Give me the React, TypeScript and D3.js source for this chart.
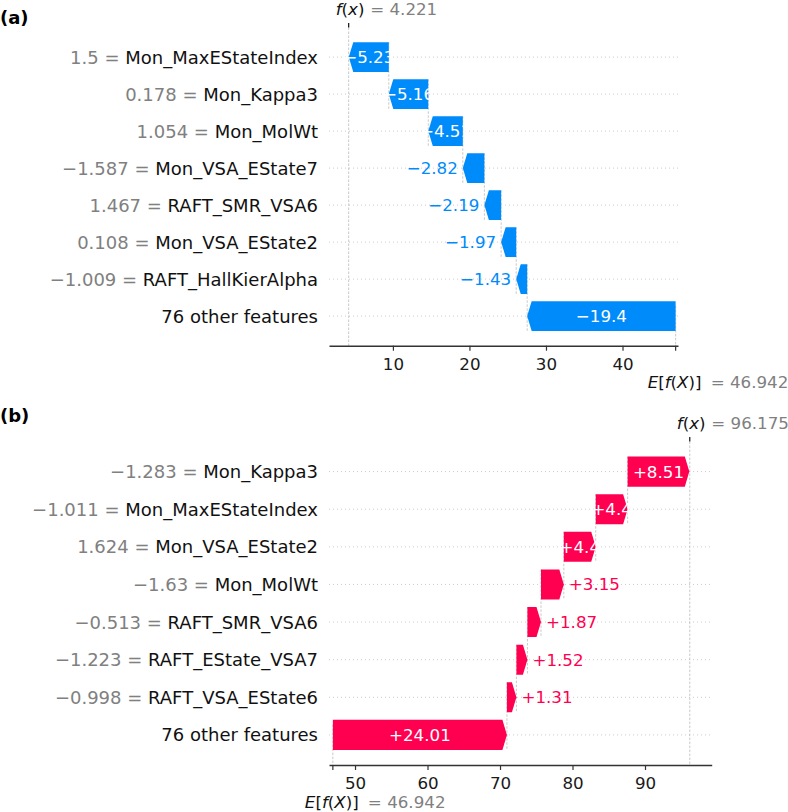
import React, { useRef, useEffect } from "react";
import * as d3 from "d3";

// panel (a)
const namesA = ["Mon_MaxEStateIndex", "Mon_Kappa3", "Mon_MolWt", "Mon_VSA_EState7", "RAFT_SMR_VSA6", "Mon_VSA_EState2", "RAFT_HallKierAlpha", "76 other features"];
const featValsA = ["1.5", "0.178", "1.054", "\u22121.587", "1.467", "0.108", "\u22121.009", ""];
const shapA = [-5.23, -5.16, -4.51, -2.82, -2.19, -1.97, -1.43, -19.4];
const ticksA = [10, 20, 30, 40];
const baseA = 46.942;
const fxA = 4.221;

// panel (b)
const namesB = ["Mon_Kappa3", "Mon_MaxEStateIndex", "Mon_VSA_EState2", "Mon_MolWt", "RAFT_SMR_VSA6", "RAFT_EState_VSA7", "RAFT_VSA_EState6", "76 other features"];
const featValsB = ["\u22121.283", "\u22121.011", "1.624", "\u22121.63", "\u22120.513", "\u22121.223", "\u22120.998", ""];
const shapB = [8.51, 4.4, 4.4, 3.15, 1.87, 1.52, 1.31, 24.01];
const ticksB = [50, 60, 70, 80, 90];
const baseB = 46.942;
const fxB = 96.175;

const W = 788, H = 812;
const BLUE = "#008bfb", RED = "#ff0051";
const FONT = "'DejaVu Sans', sans-serif";

function fmtShap(v) {
  return (v < 0 ? "\u2212" : "+") + String(Math.abs(v));
}

function drawWaterfall(root, p) {
  const g = root.append("g");
  const n = p.names.length;
  const x = d3.scaleLinear().domain(p.domain).range(p.xRange);
  const y = d3.scaleLinear().domain([-0.8, n - 0.2]).range([p.top, p.bottom]);
  const bh = 0.8 * (y(1) - y(0));

  // cumulative sums, from the bottom row (base value) up to f(x)
  const bars = [];
  let cum = p.base;
  for (let i = n - 1; i >= 0; i--) {
    bars[i] = { i, v: p.shap[i], start: cum, end: cum + p.shap[i] };
    cum += p.shap[i];
  }

  // dotted row guides
  g.selectAll(".grid").data(d3.range(n)).join("line")
    .attr("x1", p.xRange[0]).attr("x2", p.xRange[1])
    .attr("y1", i => y(i)).attr("y2", i => y(i))
    .attr("stroke", "#cccccc").attr("stroke-width", 1).attr("stroke-dasharray", "1,3");

  // f(x) line and E[f(X)] line
  g.append("line")
    .attr("x1", x(p.fx)).attr("x2", x(p.fx)).attr("y1", p.top).attr("y2", p.bottom)
    .attr("stroke", "#bbbbbb").attr("stroke-width", 0.8).attr("stroke-dasharray", "2.5,1.5");
  g.append("line")
    .attr("x1", x(p.base)).attr("x2", x(p.base))
    .attr("y1", p.bottom - (p.bottom - p.top) / n).attr("y2", p.bottom)
    .attr("stroke", "#bbbbbb").attr("stroke-width", 0.8).attr("stroke-dasharray", "2.5,1.5");

  // connectors between consecutive bars
  g.selectAll(".conn").data(bars.slice(0, n - 1)).join("line")
    .attr("x1", d => x(d.start)).attr("x2", d => x(d.start))
    .attr("y1", d => y(d.i) - bh / 2).attr("y2", d => y(d.i + 1) + bh / 2)
    .attr("stroke", "#bbbbbb").attr("stroke-width", 0.8).attr("stroke-dasharray", "2.5,1.5");

  // arrows
  const arrow = d => {
    const x0 = x(d.start), x1 = x(d.end), yc = y(d.i);
    const dir = x1 > x0 ? 1 : -1;
    const hl = Math.min(4.5, Math.abs(x1 - x0));
    const xb = x1 - dir * hl;
    return d3.line()([[x0, yc - bh / 2], [xb, yc - bh / 2], [x1, yc], [xb, yc + bh / 2], [x0, yc + bh / 2]]) + "Z";
  };
  g.selectAll(".bar").data(bars).join("path")
    .attr("d", arrow)
    .attr("fill", d => (d.v < 0 ? BLUE : RED));

  // value labels
  g.selectAll(".val").data(bars).join("text")
    .attr("font-family", FONT).attr("font-size", 16.7)
    .each(function (d) {
      const t = d3.select(this);
      const x0 = x(d.start), x1 = x(d.end);
      const inside = Math.abs(x1 - x0) > 28;
      t.attr("y", y(d.i) + 6).text(fmtShap(d.v));
      if (inside) {
        t.attr("x", (x0 + x1) / 2).attr("text-anchor", "middle").attr("fill", "#ffffff");
      } else if (d.v < 0) {
        t.attr("x", x1 - 5).attr("text-anchor", "end").attr("fill", BLUE);
      } else {
        t.attr("x", x1 + 5).attr("text-anchor", "start").attr("fill", RED);
      }
    });

  // feature labels
  const lab = g.selectAll(".lab").data(d3.range(n)).join("text")
    .attr("x", 318).attr("y", i => y(i) + 6.5)
    .attr("text-anchor", "end")
    .attr("font-family", FONT).attr("font-size", 18);
  lab.append("tspan").attr("fill", "#808080").text(i => (p.vals[i] ? p.vals[i] + " = " : ""));
  lab.append("tspan").attr("fill", "#111111").text(i => p.names[i]);

  // bottom axis
  const ax = g.append("g")
    .attr("transform", `translate(0,${p.bottom})`)
    .call(d3.axisBottom(x).tickValues(p.ticks).tickSize(5).tickPadding(7.5).tickSizeOuter(0));
  ax.select(".domain").attr("stroke", "#333333").attr("stroke-width", 1.6);
  ax.selectAll(".tick line").attr("stroke", "#333333").attr("stroke-width", 1.2);
  ax.selectAll(".tick text").attr("font-family", FONT).attr("font-size", 16.7).attr("fill", "#1a1a1a");
  g.append("line")
    .attr("x1", x(p.base)).attr("x2", x(p.base)).attr("y1", p.bottom).attr("y2", p.bottom + 5)
    .attr("stroke", "#333333").attr("stroke-width", 1.2);

  // E[f(X)] label
  const ef = g.append("text").attr("y", p.bottom + 42.5)
    .attr("font-family", FONT).attr("font-size", 16.7).attr("fill", "#111111");
  ef.append("tspan").attr("x", x(p.base) - 28).attr("font-style", "italic").text("E");
  ef.append("tspan").text("[");
  ef.append("tspan").attr("font-style", "italic").text("f");
  ef.append("tspan").text("(");
  ef.append("tspan").attr("font-style", "italic").text("X");
  ef.append("tspan").text(")]");
  g.append("text").attr("x", x(p.base) + 35).attr("y", p.bottom + 42.5)
    .attr("font-family", FONT).attr("font-size", 16.7).attr("fill", "#808080")
    .text("= " + p.base.toFixed(3));

  // f(x) tick and label
  g.append("line")
    .attr("x1", x(p.fx)).attr("x2", x(p.fx)).attr("y1", p.top - 4.5).attr("y2", p.top)
    .attr("stroke", "#111111").attr("stroke-width", 1.2);
  const fl = g.append("text").attr("y", p.top - 12.8)
    .attr("font-family", FONT).attr("font-size", 16.7).attr("fill", "#111111");
  fl.append("tspan").attr("x", x(p.fx) - 13).attr("font-style", "italic").text("f");
  fl.append("tspan").text("(");
  fl.append("tspan").attr("font-style", "italic").text("x");
  fl.append("tspan").text(")");
  g.append("text").attr("x", x(p.fx) + 21.5).attr("y", p.top - 12.8)
    .attr("font-family", FONT).attr("font-size", 16.7).attr("fill", "#808080")
    .text("= " + p.fx.toFixed(3));

  // panel title
  g.append("text").attr("x", 0).attr("y", p.titleY)
    .attr("font-family", FONT).attr("font-size", 18).attr("font-weight", "bold").attr("fill", "#000")
    .text(p.title);
}

export default function App() {
  const ref = useRef(null);

  useEffect(() => {
    const svg = d3.select(ref.current);
    svg.selectAll("*").remove();

    drawWaterfall(svg, {
      title: "(a)", titleY: 23.5,
      names: namesA, vals: featValsA, shap: shapA, ticks: ticksA, base: baseA, fx: fxA,
      domain: [1.65, 47.25], xRange: [329, 678], top: 27.5, bottom: 345.7,
    });
    drawWaterfall(svg, {
      title: "(b)", titleY: 422,
      names: namesB, vals: featValsB, shap: shapB, ticks: ticksB, base: baseB, fx: fxB,
      domain: [46.41, 99.2], xRange: [329, 711.7], top: 441.5, bottom: 765,
    });
  }, []);

  return (
    <svg ref={ref} width={W} height={H}
      style={{ position: "absolute", left: 0, top: 0, background: "#fff" }} />
  );
}
